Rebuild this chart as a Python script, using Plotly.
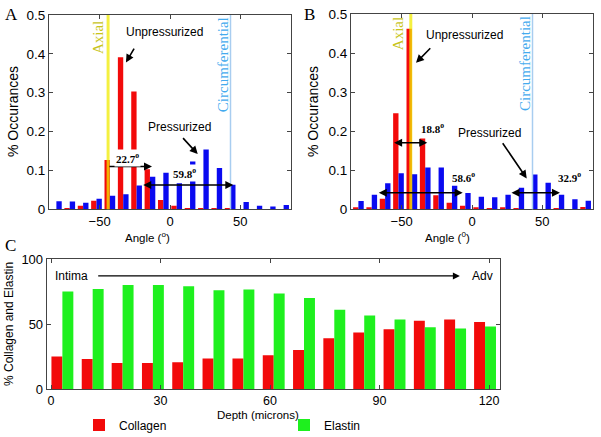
import plotly.graph_objects as go

# ---------------- data ----------------
angle_bins = [-80.75, -71.25, -61.75, -52.25, -42.75, -33.25, -23.75, -14.25, -4.75,
              4.75, 14.25, 23.75, 33.25, 42.75, 52.25, 61.75, 71.25, 80.75]
a_unpressurized = [0.0, 0.003, 0.009, 0.022, 0.127, 0.391, 0.303, 0.103, 0.024,
                   0.009, 0.003, 0.002, 0.001, 0.001, 0.0, 0.0, 0.0, 0.0]
a_pressurized = [0.021, 0.020, 0.017, 0.027, 0.035, 0.039, 0.061, 0.084, 0.094,
                 0.067, 0.123, 0.154, 0.106, 0.063, 0.019, 0.009, 0.007, 0.011]
b_unpressurized = [0.005, 0.005, 0.027, 0.246, 0.462, 0.181, 0.036, 0.017, 0.009,
                   0.005, 0.003, 0.005, 0.001, 0.0, 0.0, 0.001, 0.0, 0.006]
b_pressurized = [0.021, 0.037, 0.067, 0.092, 0.090, 0.107, 0.107, 0.060, 0.042,
                 0.032, 0.031, 0.037, 0.055, 0.089, 0.068, 0.037, 0.026, 0.022]

depth = [3.1, 11.4, 19.6, 27.9, 36.2, 44.5, 52.7, 61.0, 69.3, 77.6, 85.8, 94.1, 102.4, 110.7, 118.9]
collagen = [25, 23, 20, 20, 20.5, 23.5, 23.5, 26, 30, 39, 43.5, 46, 52.5, 53.5, 51.5]
elastin = [75, 77, 80, 80, 79, 76, 76.5, 73.5, 70, 61, 56.5, 53.5, 47.5, 46.5, 48]

angle_ticks = [-50, 0, 50]
occ_ticks = [0, 0.1, 0.2, 0.3, 0.4, 0.5]
depth_ticks = [0, 30, 60, 90, 120]
pct_ticks = [0, 50, 100]

axial_a, circ_a = -44.0, 43.0
axial_b, circ_b = -43.5, 43.0

spread_a = [(-44.1, -12.8, 0.110, "22.7"), (-20.1, 45.0, 0.0625, "59.8")]
spread_b = [(-56.4, -31.8, 0.1705, "18.8"), (-67.3, -6.6, 0.0425, "58.6"), (27.0, 62.5, 0.0425, "32.9")]

# ---------------- styles ----------------
RED = "#f20a0a"
BLUE = "#0a0af0"
GREEN = "#1ef01e"
SANS = "Liberation Sans, Arial, sans-serif"
SERIF = "Liberation Serif, Times New Roman, serif"
W, H = 601, 437


def px(x0, x1):
    return [x0 / W, x1 / W]


def py(top, bottom):
    return [1 - bottom / H, 1 - top / H]


fig = go.Figure()
bw = 3.8
fig.add_trace(go.Bar(x=angle_bins, y=a_unpressurized, width=bw, offset=-bw, marker_color=RED,
                     marker_line_width=0, xaxis="x", yaxis="y", showlegend=False))
fig.add_trace(go.Bar(x=angle_bins, y=a_pressurized, width=bw, offset=0, marker_color=BLUE,
                     marker_line_width=0, xaxis="x", yaxis="y", showlegend=False))
fig.add_trace(go.Bar(x=angle_bins, y=b_unpressurized, width=bw, offset=-bw, marker_color=RED,
                     marker_line_width=0, xaxis="x2", yaxis="y2", showlegend=False))
fig.add_trace(go.Bar(x=angle_bins, y=b_pressurized, width=bw, offset=0, marker_color=BLUE,
                     marker_line_width=0, xaxis="x2", yaxis="y2", showlegend=False))
cw = 3.0
fig.add_trace(go.Bar(x=depth, y=collagen, width=cw, offset=-cw, marker_color=RED, marker_line_width=0,
                     name="Collagen", xaxis="x3", yaxis="y3"))
fig.add_trace(go.Bar(x=depth, y=elastin, width=cw, offset=0, marker_color=GREEN, marker_line_width=0,
                     name="Elastin", xaxis="x3", yaxis="y3"))

axcommon = dict(showline=True, linecolor="#444", linewidth=1, mirror="ticks", ticks="inside",
                ticklen=4, tickcolor="#444", showgrid=False, zeroline=False, automargin=False,
                tickfont=dict(family=SANS, size=13.5, color="black"))

fig.update_layout(
    width=W, height=H, margin=dict(l=0, r=0, t=0, b=0, autoexpand=False),
    paper_bgcolor="white", plot_bgcolor="white", barmode="overlay",
    xaxis=dict(domain=px(49, 291), range=[-86, 86], tickvals=angle_ticks, anchor="y", **axcommon),
    yaxis=dict(domain=py(15, 209.3), range=[0, 0.5], tickvals=occ_ticks,
               ticktext=["0", "0.1", "0.2", "0.3", "0.4", "0.5"], anchor="x", **axcommon),
    xaxis2=dict(domain=px(351, 593), range=[-86, 86], tickvals=angle_ticks, anchor="y2", **axcommon),
    yaxis2=dict(domain=py(14, 209.3), range=[0, 0.5], tickvals=occ_ticks,
                ticktext=["0", "0.1", "0.2", "0.3", "0.4", "0.5"], anchor="x2", **axcommon),
    xaxis3=dict(domain=px(46.7, 500), range=[-1.2, 123], tickvals=depth_ticks, anchor="y3", **axcommon),
    yaxis3=dict(domain=py(259, 389), range=[0, 100], tickvals=pct_ticks, anchor="x3",
                title=dict(text="% Collagen and Elastin", standoff=5,
                           font=dict(family=SANS, size=12, color="black")), **axcommon),
    legend=dict(orientation="h", x=79 / W, y=1 - 425 / H, xanchor="left", yanchor="middle",
                font=dict(family=SANS, size=12, color="black"), entrywidth=160, bgcolor="rgba(0,0,0,0)"),
)
fig.update_xaxes(tickfont_size=13)
fig.update_yaxes(tickfont_size=13.5)
fig.layout.xaxis3.tickfont.size = 12.5
fig.layout.yaxis3.tickfont.size = 13

shapes = []
for xa, ya, ax_ang, circ in (("x", "y", axial_a, circ_a), ("x2", "y2", axial_b, circ_b)):
    shapes.append(dict(type="line", xref=xa, yref=ya + " domain", x0=ax_ang, x1=ax_ang, y0=0, y1=1,
                       line=dict(color="rgba(240,235,0,0.75)", width=3), layer="above"))
    shapes.append(dict(type="line", xref=xa, yref=ya + " domain", x0=circ, x1=circ, y0=0, y1=1,
                       line=dict(color="#a8cdf0", width=1.5), layer="above"))
fig.update_layout(shapes=shapes)

ann = []


def arrow(xref, yref, x0, y0, x1, y1, both=False):
    ann.append(dict(xref=xref, yref=yref, axref=xref, ayref=yref, x=x1, y=y1, ax=x0, ay=y0,
                    text="", showarrow=True, arrowhead=2, arrowsize=1, arrowwidth=1.6,
                    arrowcolor="black", standoff=0, startstandoff=0,
                    arrowside="end+start" if both else "end", startarrowhead=2, startarrowsize=1))


def text(xref, yref, x, y, s, size=12, family=SANS, color="black", angle=0, bg=None, **kw):
    d = dict(xref=xref, yref=yref, x=x, y=y, text=s, showarrow=False, textangle=angle,
             xanchor="center", yanchor="middle",
             font=dict(family=family, size=size, color=color))
    if bg:
        d.update(bgcolor=bg, borderpad=1)
    d.update(kw)
    ann.append(d)


# Panel A
text("x", "y", -3.9, 0.456, "Unpressurized", size=12)
arrow("x", "y", -24.9, 0.4175, -31.3, 0.378)
text("x", "y", 6.4, 0.212, "Pressurized", size=12)
arrow("x", "y", 8.3, 0.187, 19.7, 0.142)
x0, x1, yy, lab = spread_a[0]
arrow("x", "y", x0, yy, x1, yy)
text("x", "y", -29.9, 0.1325, "<b>" + lab + "<sup>o</sup></b>", size=11, family=SERIF, bg="white")
x0, x1, yy, lab = spread_a[1]
arrow("x", "y", x0, yy, x1, yy, both=True)
text("x", "y", 10.3, 0.0934, "<b>" + lab + "<sup>o</sup></b>", size=11, family=SERIF, bg="white")
text("x", "y", -51.5, 0.442, "Axial", size=15, family=SERIF, color="#c8c41a", angle=-90)
text("x", "y", 37.7, 0.371, "Circumferential", size=15, family=SERIF, color="#44aaee", angle=-90)

# Panel B
text("x2", "y2", -5.3, 0.446, "Unpressurized", size=12)
arrow("x2", "y2", -28.6, 0.416, -39.8, 0.375)
text("x2", "y2", 12.1, 0.196, "Pressurized", size=12)
arrow("x2", "y2", 21.1, 0.173, 38.9, 0.079)
pos_b = [(-28.1, 0.208), (-5.7, 0.0835), (69.0, 0.0835)]
for (x0, x1, yy, lab), (tx, ty) in zip(spread_b, pos_b):
    arrow("x2", "y2", x0, yy, x1, yy, both=True)
    text("x2", "y2", tx, ty, "<b>" + lab + "<sup>o</sup></b>", size=11, family=SERIF)
text("x2", "y2", -52.6, 0.451, "Axial", size=15, family=SERIF, color="#c8c41a", angle=-90)
text("x2", "y2", 37.7, 0.372, "Circumferential", size=15, family=SERIF, color="#44aaee", angle=-90)

# Axis titles (paper)
text("paper", "paper", 13 / W, 1 - 112 / H, "% Occurances", size=14, angle=-90)
text("paper", "paper", 313 / W, 1 - 112 / H, "% Occurances", size=14, angle=-90)
text("paper", "paper", 147 / W, 1 - 237 / H, "Angle (<sup>o</sup>)", size=11.5)
text("paper", "paper", 447 / W, 1 - 237 / H, "Angle (<sup>0</sup>)", size=11.5)
text("paper", "paper", 258 / W, 1 - 414.5 / H, "Depth (microns)", size=11.5)

# Panel letters
text("paper", "paper", 11 / W, 1 - 14 / H, "A", size=17, family=SERIF)
text("paper", "paper", 309 / W, 1 - 14 / H, "B", size=17, family=SERIF)
text("paper", "paper", 10.5 / W, 1 - 245 / H, "C", size=17, family=SERIF)

# Panel C annotations
text("x3", "y3", 0.5, 87, "Intima", size=12, xanchor="left")
ann.append(dict(xref="x3", yref="y3", axref="x3", ayref="y3", x=112, y=87, ax=12.5, ay=87, text="",
                showarrow=True, arrowhead=2, arrowsize=1, arrowwidth=1.4, arrowcolor="black",
                standoff=0))
text("x3", "y3", 121.5, 87, "Adv", size=12, xanchor="right")

fig.update_layout(annotations=ann)
fig.write_html("out.html", config={"displayModeBar": False},
               post_script="document.body.style.margin='0';document.body.style.overflow='hidden';")
